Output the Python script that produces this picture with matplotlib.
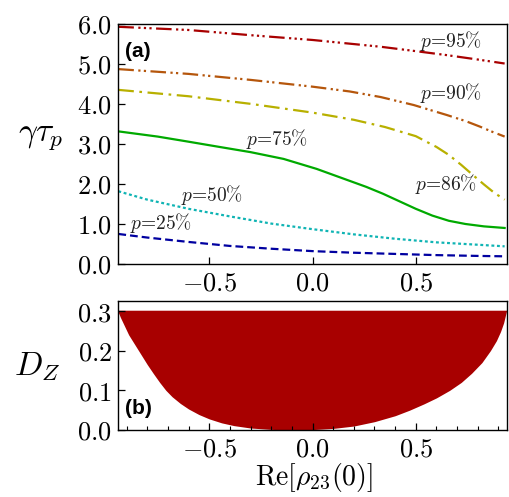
import matplotlib
matplotlib.use("Agg")
import matplotlib.pyplot as plt
from matplotlib.ticker import FixedLocator, FixedFormatter, MultipleLocator

plt.rcParams['mathtext.fontset'] = 'cm'

# ---------------- data ----------------
x95 = [-0.94, -0.6, -0.3, 0.0, 0.33, 0.5, 0.65, 0.8, 0.93]
p95 = [5.93, 5.85, 5.72, 5.60, 5.43, 5.32, 5.22, 5.11, 5.01]

x90 = [-0.94, -0.6, -0.3, 0.0, 0.18, 0.33, 0.49, 0.65, 0.74, 0.81, 0.87, 0.93]
p90 = [4.87, 4.75, 4.60, 4.43, 4.31, 4.17, 3.97, 3.72, 3.57, 3.43, 3.30, 3.18]

x86 = [-0.94, -0.6, -0.3, 0.0, 0.2, 0.35, 0.5, 0.6, 0.66, 0.72, 0.78, 0.83, 0.88, 0.93]
p86 = [4.35, 4.19, 4.00, 3.78, 3.60, 3.42, 3.19, 2.92, 2.72, 2.47, 2.20, 1.98, 1.77, 1.60]

x75 = [-0.94, -0.75, -0.61, -0.45, -0.3, -0.14, 0.02, 0.18, 0.26, 0.34, 0.42, 0.5, 0.58, 0.66, 0.74, 0.83, 0.93]
p75 = [3.31, 3.18, 3.06, 2.92, 2.79, 2.62, 2.37, 2.07, 1.92, 1.75, 1.56, 1.37, 1.20, 1.07, 0.99, 0.93, 0.89]

x50 = [-0.94, -0.8, -0.6, -0.4, -0.2, 0.0, 0.2, 0.4, 0.6, 0.8, 0.93]
p50 = [1.81, 1.60, 1.37, 1.18, 1.00, 0.86, 0.73, 0.62, 0.53, 0.47, 0.43]

x25 = [-0.94, -0.8, -0.6, -0.4, -0.2, 0.0, 0.2, 0.4, 0.6, 0.8, 0.93]
p25 = [0.74, 0.65, 0.54, 0.44, 0.37, 0.31, 0.27, 0.24, 0.21, 0.19, 0.18]

labels = ['$p$=95%', '$p$=90%', '$p$=86%', '$p$=75%', '$p$=50%', '$p$=25%']
label_pos = [(0.67, 5.58), (0.67, 4.27), (0.645, 2.0), (-0.17, 3.12), (-0.486, 1.72), (-0.734, 1.02)]

# panel (b): lower boundary of the D_Z region
xb = [-0.944, -0.93, -0.91, -0.89, -0.86, -0.83, -0.8, -0.77, -0.74, -0.71, -0.68, -0.64, -0.6,
      -0.55, -0.5, -0.44, -0.38, -0.3, -0.2, -0.1, 0.0, 0.1, 0.2, 0.3, 0.4, 0.47, 0.54, 0.6,
      0.664, 0.72, 0.77, 0.82, 0.861, 0.89, 0.91, 0.925, 0.94]
dz_low = [0.302, 0.284, 0.262, 0.24, 0.215, 0.19, 0.165, 0.142, 0.12, 0.1, 0.084, 0.067, 0.053,
          0.039, 0.028, 0.018, 0.011, 0.005, 0.0015, 0.0, 0.001, 0.004, 0.01, 0.021, 0.036, 0.05, 0.066, 0.081,
          0.1, 0.12, 0.143, 0.17, 0.2, 0.225, 0.248, 0.27, 0.302]
dz_top = 0.302

xticks = [-0.5, 0.0, 0.5]
xticklabels = ['$-0.5$', '$0.0$', '$0.5$']
yticks_a = [0, 1, 2, 3, 4, 5, 6]
yticklabels_a = ['$0.0$', '$1.0$', '$2.0$', '$3.0$', '$4.0$', '$5.0$', '$6.0$']
yticks_b = [0.0, 0.1, 0.2, 0.3]
yticklabels_b = ['$0.0$', '$0.1$', '$0.2$', '$0.3$']

# ---------------- figure ----------------
W, H = 509, 497
fig = plt.figure(figsize=(W / 100, H / 100), dpi=100)

def fx(px):
    return px / W

def fy(py):
    return 1 - py / H

L, R = 117.5, 506.7
axa = fig.add_axes([fx(L), fy(263.5), fx(R) - fx(L), fy(24) - fy(263.5)])
axb = fig.add_axes([fx(L), fy(430), fx(R) - fx(L), fy(300.7) - fy(430)])

lw = 1.6
axa.plot(x95, p95, color='#a80000', lw=lw, dashes=[7, 2, 1, 1.5, 1, 1.5, 1, 2])
axa.plot(x90, p90, color='#b5560c', lw=lw, dashes=[7, 2, 1, 1.5, 1, 2])
axa.plot(x86, p86, color='#b8b000', lw=lw, dashes=[7, 2.5, 1.2, 2.5])
axa.plot(x75, p75, color='#00aa00', lw=lw)
axa.plot(x50, p50, color='#10b4b4', lw=lw, dashes=[1.3, 1.2])
axa.plot(x25, p25, color='#0000a0', lw=lw, dashes=[3.5, 1.8])

for t, (tx, ty) in zip(labels, label_pos):
    axa.text(tx, ty, t, fontsize=14, ha='center', va='center', color='#222222',
             family=['cmr10', 'DejaVu Serif'])

axa.text(0.018, 0.887, '(a)', transform=axa.transAxes, fontsize=15, fontweight='bold',
         family=['Liberation Sans', 'DejaVu Sans'], ha='left', va='center')

axb.fill_between(xb, dz_low, dz_top, color='#a80000', lw=0)
axb.text(0.018, 0.17, '(b)', transform=axb.transAxes, fontsize=15, fontweight='bold',
         family=['Liberation Sans', 'DejaVu Sans'], ha='left', va='center')

for ax in (axa, axb):
    ax.set_xlim(-0.944, 0.94)
    ax.xaxis.set_major_locator(FixedLocator(xticks))
    ax.xaxis.set_major_formatter(FixedFormatter(xticklabels))
    ax.tick_params(direction='in', length=5, width=0.9, labelsize=19, top=False, right=False)
    ax.tick_params(axis='y', pad=4)
    ax.tick_params(axis='x', pad=5)
    for s in ax.spines.values():
        s.set_linewidth(1.0)

axa.set_ylim(0, 6)
axa.yaxis.set_major_locator(FixedLocator(yticks_a))
axa.yaxis.set_major_formatter(FixedFormatter(yticklabels_a))

axb.set_ylim(0, 0.326)
axb.yaxis.set_major_locator(FixedLocator(yticks_b))
axb.yaxis.set_major_formatter(FixedFormatter(yticklabels_b))
axb.xaxis.set_minor_locator(MultipleLocator(0.1))
axb.tick_params(axis='x', which='minor', direction='in', length=3, width=0.8, top=False)

fig.text(fx(41), fy(135), '$\\gamma\\tau_p$', fontsize=24, ha='center', va='center')
fig.text(fx(37), fy(367), '$D_Z$', fontsize=24, ha='center', va='center')
fig.text(fx(313.5), fy(478), '$\\mathrm{Re}[\\rho_{23}(0)]$', fontsize=20, ha='center', va='center')

fig.savefig('out.png', dpi=100)
